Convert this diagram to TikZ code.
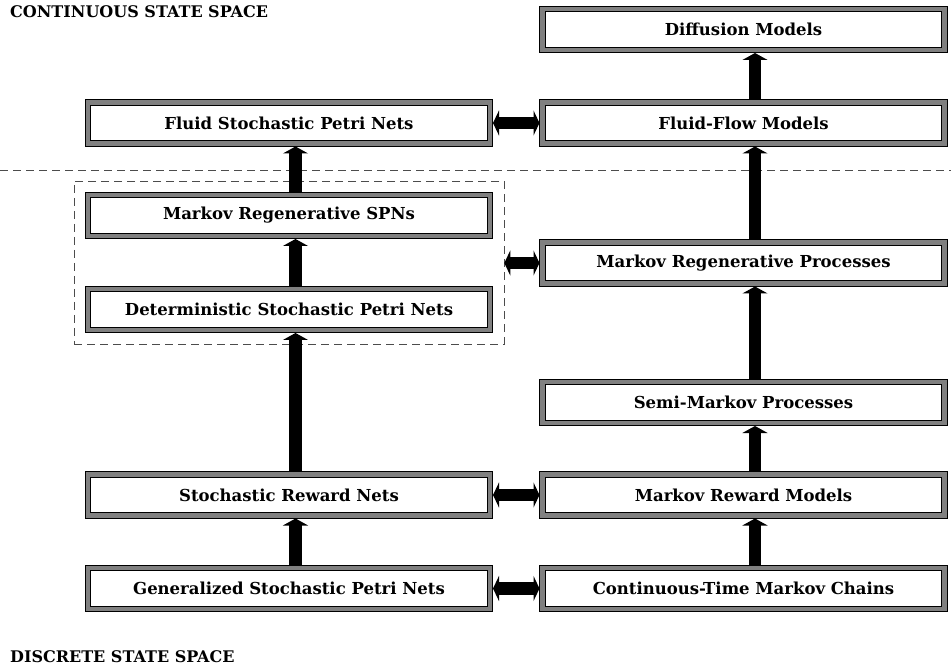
\documentclass[tikz,border=0pt]{standalone}
\usepackage{fontspec}
\setmainfont{DejaVu Serif}
\usetikzlibrary{arrows.meta,fit}

\tikzset{
  model/.style={draw=black, line width=0.8pt, double=gray, double distance=4.5pt,
    fill=white, minimum width=402pt, minimum height=41pt, outer sep=3pt,
    font=\fontsize{16.5}{19}\selectfont\bfseries},
  up/.style={line width=12.5pt, -{Triangle[width=25pt,length=7pt]}},
  both/.style={line width=12.5pt, {Triangle[width=25pt,length=6pt]}-{Triangle[width=25pt,length=6pt]}},
  region/.style={font=\fontsize{16}{19}\selectfont\bfseries, anchor=west, inner sep=0pt},
  border/.style={draw=black!70, line width=0.6pt, dash pattern=on 8pt off 5pt}
}

\begin{document}
\begin{tikzpicture}[x=1pt,y=-1pt]
	\useasboundingbox (0,0) rectangle (951,668);
	\node[region] (cont) at (10,12) {CONTINUOUS STATE SPACE};
	\node[region] (disc) at (10,657) {DISCRETE STATE SPACE};
	\draw[border] (0,170) -- (951,170);
	\node[model] (diff) at (743.5,29.5) {Diffusion Models};
	\node[model] (fspn) at (289,123) {Fluid Stochastic Petri Nets};
	\node[model] (ffm) at (743.5,123) {Fluid-Flow Models};
	\node[model] (mrspn) at (289,215.5) {Markov Regenerative SPNs};
	\node[model] (mrp) at (743.5,263) {Markov Regenerative Processes};
	\node[model] (dspn) at (289,309.5) {Deterministic Stochastic Petri Nets};
	\node[model] (smp) at (743.5,402.5) {Semi-Markov Processes};
	\node[model] (srn) at (289,495) {Stochastic Reward Nets};
	\node[model] (mrm) at (743.5,495) {Markov Reward Models};
	\node[model] (gspn) at (289,588.5) {Generalized Stochastic Petri Nets};
	\node[model] (ctmc) at (743.5,588.5) {Continuous-Time Markov Chains};
	\node[border, fit=(mrspn)(dspn), inner sep=11pt] (det) {};
	\draw[up] ([xshift=6.5pt]gspn.north) -- ([xshift=6.5pt]srn.south);
	\draw[up] ([xshift=6.5pt]srn.north) -- ([xshift=6.5pt]dspn.south);
	\draw[up] ([xshift=6.5pt]dspn.north) -- ([xshift=6.5pt]mrspn.south);
	\draw[up] ([xshift=6.5pt]mrspn.north) -- ([xshift=6.5pt]fspn.south);
	\draw[up] ([xshift=11.5pt]ctmc.north) -- ([xshift=11.5pt]mrm.south);
	\draw[up] ([xshift=11.5pt]mrm.north) -- ([xshift=11.5pt]smp.south);
	\draw[up] ([xshift=11.5pt]smp.north) -- ([xshift=11.5pt]mrp.south);
	\draw[up] ([xshift=11.5pt]mrp.north) -- ([xshift=11.5pt]ffm.south);
	\draw[up] ([xshift=11.5pt]ffm.north) -- ([xshift=11.5pt]diff.south);
	\draw[both] (gspn) -- (ctmc);
	\draw[both] (srn) -- (mrm);
	\draw[both] (fspn) -- (ffm);
	\draw[both] (det.east |- mrp.west) -- (mrp.west);
\end{tikzpicture}
\end{document}
